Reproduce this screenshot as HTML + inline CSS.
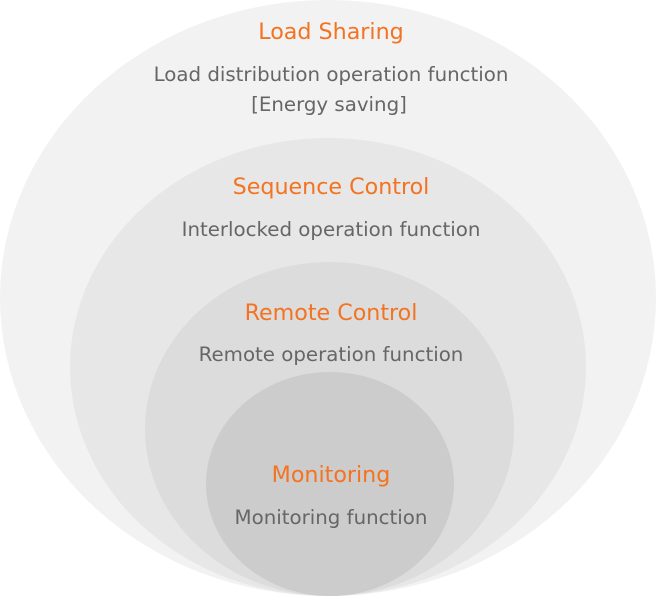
<!DOCTYPE html>
<html><head><style>
body{margin:0;background:#fff;}
svg text{font-family:"DejaVu Sans","Liberation Sans",sans-serif;text-anchor:middle;}
.t{fill:#f37321;font-size:22.2px;}
.d{fill:#666;font-size:19.8px;}
</style></head><body>
<svg width="656" height="596" viewBox="0 0 656 596">
<ellipse cx="328" cy="298" rx="328" ry="298" fill="#f2f2f2"/>
<ellipse cx="328" cy="367" rx="258" ry="229" fill="#e7e7e7"/>
<ellipse cx="329.5" cy="429" rx="184.5" ry="167" fill="#dcdcdc"/>
<ellipse cx="330" cy="484" rx="124" ry="112" fill="#cccccc"/>
<text class="t" x="331" y="39">Load Sharing</text>
<text class="d" x="331" y="81">Load distribution operation function</text>
<text class="d" x="329" y="111">[Energy saving]</text>
<text class="t" x="331" y="194">Sequence Control</text>
<text class="d" x="331" y="236">Interlocked operation function</text>
<text class="t" x="331" y="320">Remote Control</text>
<text class="d" x="331" y="361">Remote operation function</text>
<text class="t" x="331" y="482">Monitoring</text>
<text class="d" x="331" y="524">Monitoring function</text>
</svg>
</body></html>
